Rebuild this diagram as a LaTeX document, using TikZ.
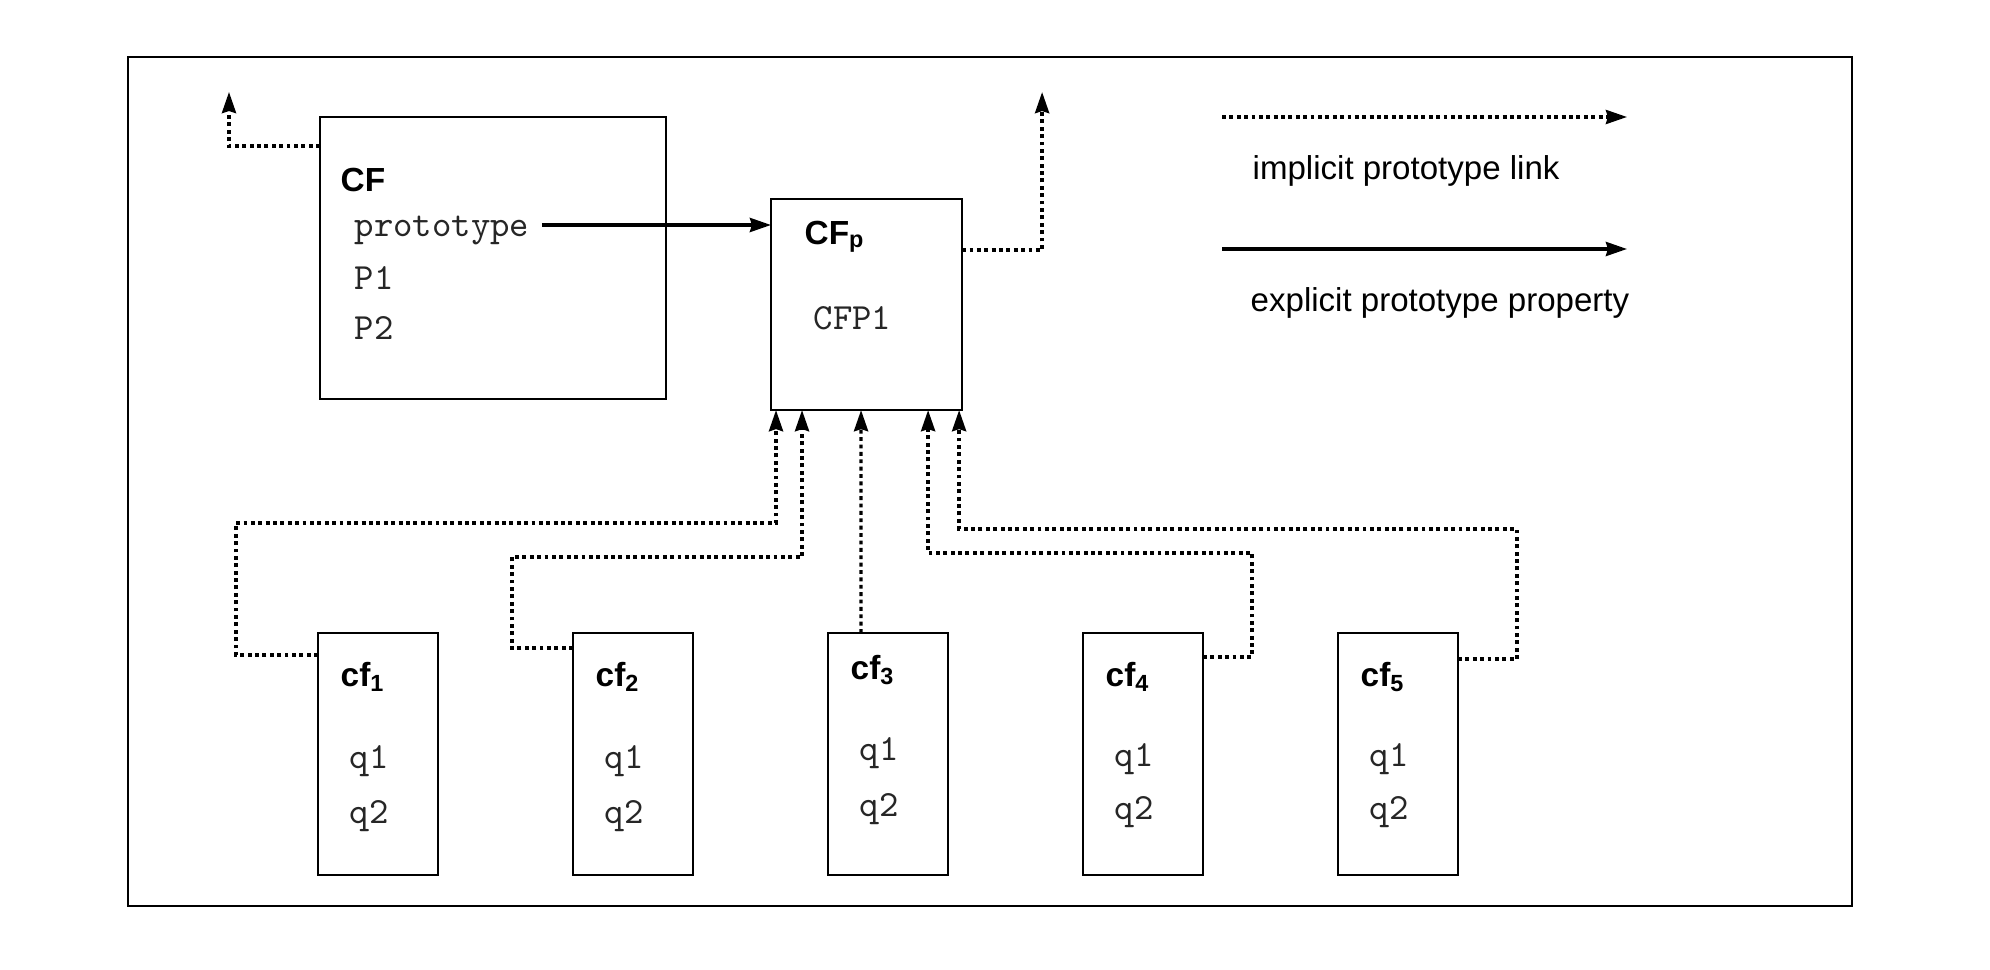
\documentclass[tikz,border=0pt]{standalone}
\usepackage{fontspec}
\setmainfont{Liberation Sans}
\usetikzlibrary{positioning, arrows.meta}

\begin{document}
\begin{tikzpicture}[x=0.01cm, y=-0.01cm,
        box/.style={draw, line width=0.6pt, anchor=north west, inner sep=0pt, outer sep=0pt},
        objbox/.style={box, minimum width=1.2cm, minimum height=2.42cm},
        boxtitle/.style={anchor=west, inner sep=0pt, font=\fontsize{9.5}{11}\selectfont\bfseries},
        member/.style={anchor=west, inner sep=0pt, font=\fontsize{10.5}{12}\selectfont\ttfamily, text=black!85},
        legendtext/.style={anchor=west, inner sep=0pt, font=\fontsize{9.4}{11}\selectfont},
        implicit/.style={line width=0.95pt, dash pattern=on 1.1pt off 1pt, -{Stealth[length=6pt, width=4pt, inset=0.6pt]}},
        explicit/.style={line width=1pt, -{Stealth[length=6pt, width=4pt, inset=0.6pt]}}]
        \useasboundingbox (0,0) rectangle (1990,970);
        \draw[line width=0.8pt] (128,57) rectangle (1852,906);

        \node[box, minimum width=3.46cm, minimum height=2.82cm] (CF) at (320,117) {};
        \node[boxtitle] (CFt) at (340,180) {CF};
        \node[member] (proto) at (354,230) {prototype};
        \node[member] (P1) at (354,278) {P1};
        \node[member] (P2) at (354,328) {P2};

        \node[box, minimum width=1.91cm, minimum height=2.11cm] (CFp) at (771,199) {};
        \node[boxtitle] (CFpt) at (804,237) {CF\textsubscript{p}};
        \node[member] (CFP1) at (813,318) {CFP1};

        \node[objbox] (cf1) at (318,633) {};
        \node[boxtitle] (cf1t) at (340,677) {cf\textsubscript{1}};
        \node[member] (cf1q1) at (349,761) {q1};
        \node[member] (cf1q2) at (349,816) {q2};

        \node[objbox] (cf2) at (573,633) {};
        \node[boxtitle] (cf2t) at (595,677) {cf\textsubscript{2}};
        \node[member] (cf2q1) at (604,761) {q1};
        \node[member] (cf2q2) at (604,816) {q2};

        \node[objbox] (cf3) at (828,633) {};
        \node[boxtitle] (cf3t) at (850,670) {cf\textsubscript{3}};
        \node[member] (cf3q1) at (859,753) {q1};
        \node[member] (cf3q2) at (859,809) {q2};

        \node[objbox] (cf4) at (1083,633) {};
        \node[boxtitle] (cf4t) at (1105,677) {cf\textsubscript{4}};
        \node[member] (cf4q1) at (1114,759) {q1};
        \node[member] (cf4q2) at (1114,812) {q2};

        \node[objbox] (cf5) at (1338,633) {};
        \node[boxtitle] (cf5t) at (1360,677) {cf\textsubscript{5}};
        \node[member] (cf5q1) at (1369,759) {q1};
        \node[member] (cf5q2) at (1369,812) {q2};

        \draw[implicit] ([yshift=-0.29cm]CF.north west) -- ++(-91,0) -- ++(0,-54);
        \draw[implicit] ([yshift=-0.51cm]CFp.north east) -- ++(80,0) -- ++(0,-158);
        \draw[explicit] ([xshift=0.12cm, yshift=0.05cm]proto.east) -- ([yshift=0.05cm]proto.east -| CFp.west);

        \draw[implicit] ([yshift=-0.22cm]cf1.north west) -- ++(-82,0) -- ++(0,-132) -| ([xshift=0.05cm]CFp.south west);
        \draw[implicit] ([yshift=-0.15cm]cf2.north west) -- ++(-61,0) -- ++(0,-91) -| ([xshift=0.31cm]CFp.south west);
        \draw[implicit] ([xshift=-0.27cm]cf3.north) -- ([xshift=-0.055cm]CFp.south);
        \draw[implicit] ([yshift=-0.24cm]cf4.north east) -- ++(49,0) -- ++(0,-104) -| ([xshift=-0.34cm]CFp.south east);
        \draw[implicit] ([yshift=-0.26cm]cf5.north east) -- ++(59,0) -- ++(0,-130) -| ([xshift=-0.03cm]CFp.south east);

        \coordinate (impA) at (1222,117);
        \coordinate (impB) at (1627,117);
        \coordinate (expA) at (1222,249);
        \coordinate (expB) at (1627,249);
        \draw[implicit] (impA) -- (impB);
        \draw[explicit] (expA) -- (expB);
        \node[legendtext] (impT) at (1252,171) {implicit prototype link};
        \node[legendtext] (expT) at (1250,303) {explicit prototype property};
    \end{tikzpicture}
\end{document}
